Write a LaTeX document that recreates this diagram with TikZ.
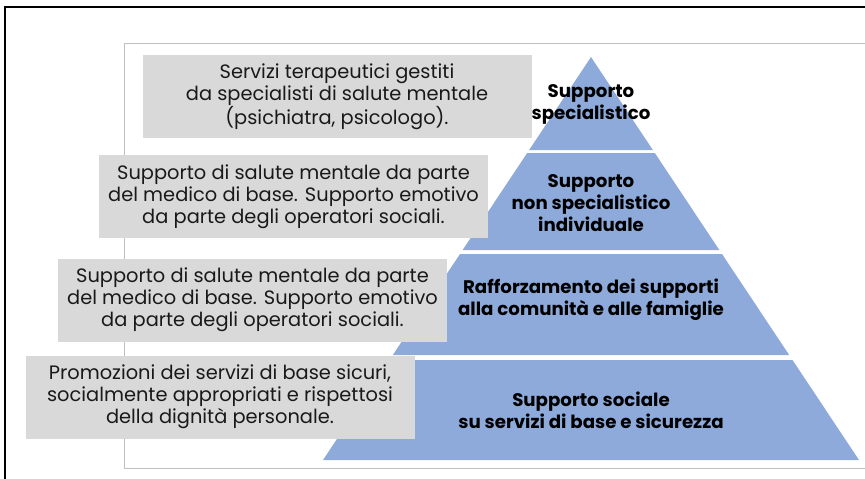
\documentclass[tikz,border=0pt]{standalone}
\usepackage{fontspec}
\setmainfont{Poppins}
\usetikzlibrary{positioning}
\definecolor{pyrblue}{HTML}{8EAADB}
\definecolor{boxgrey}{HTML}{D9D9D9}
\definecolor{framegrey}{HTML}{BFBFBF}

\begin{document}
\begin{tikzpicture}[
        x=1pt, y=-1pt,
        infobox/.style={rectangle, fill=boxgrey, minimum width=389pt, minimum height=83pt, align=center, text=black!90, font=\fontsize{19.4}{22}\selectfont},
        layer/.style={fill=pyrblue},
        layertext/.style={align=center, text=black, font=\bfseries\fontsize{18.2}{22}\selectfont}
    ]
        \useasboundingbox (0,0) rectangle (865,479);
        % frames
        \draw[line width=1.5pt] (865,7) -- (5,7) -- (5,479);
        \draw[framegrey, line width=1pt] (865,43) -- (124,43) -- (124,468) -- (865,468);
        % pyramid, one trapezoid per level
        \foreach \ya/\yb in {57/150, 153/250, 254/355, 360/460}
            \fill[layer] ({591-0.665*(\ya-57)},\ya) -- ({591+0.665*(\ya-57)},\ya) -- ({591+0.665*(\yb-57)},\yb) -- ({591-0.665*(\yb-57)},\yb) -- cycle;
        \node[layertext] (specialist) at (591,104) {Supporto\\specialistico};
        \node[layertext] (nonspecialist) at (591,203) {Supporto\\non specialistico\\individuale};
        \node[layertext] (community) at (591,300) {Rafforzamento dei supporti\\alla comunità e alle famiglie};
        \node[layertext] (social) at (591,410) {Supporto sociale\\su servizi di base e sicurezza};
        % descriptions
        \node[infobox] (therapy) at (337,96.5) {Servizi terapeutici gestiti\\da specialisti di salute mentale\\(psichiatra, psicologo).};
        \node[infobox] (gp) at (293.5,196.5) {Supporto di salute mentale da parte\\del medico di base. Supporto emotivo\\da parte degli operatori sociali.};
        \node[infobox] (gpcommunity) at (252.5,300) {Supporto di salute mentale da parte\\del medico di base. Supporto emotivo\\da parte degli operatori sociali.};
        \node[infobox] (basic) at (220,397) {Promozioni dei servizi di base sicuri,\\socialmente appropriati e rispettosi\\della dignità personale.};
    \end{tikzpicture}
\end{document}
